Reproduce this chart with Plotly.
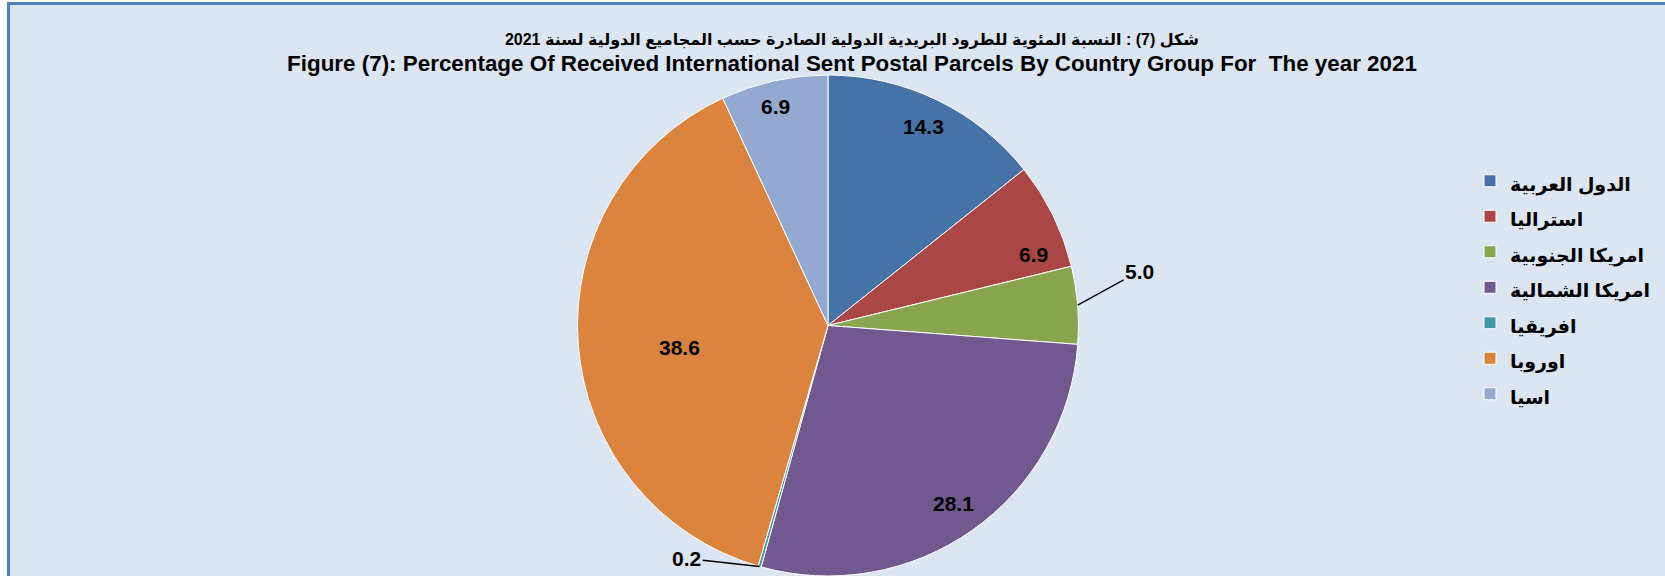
import math
import plotly.graph_objects as go

# ---- data ----
labels = ["الدول العربية", "استراليا", "امريكا الجنوبية", "امريكا الشمالية", "افريقيا", "اوروبا", "اسيا"]
values = [14.3, 6.9, 5.0, 28.1, 0.2, 38.6, 6.9]
colors = ["#4572A7", "#AA4643", "#89A54E", "#71588F", "#4198AF", "#DB843D", "#93A9CF"]

title_ar = "شكل (7) : النسبة المئوية للطرود البريدية الدولية الصادرة حسب المجاميع الدولية لسنة 2021"
title_en = "Figure (7): Percentage Of Received International Sent Postal Parcels By Country Group For  The year 2021"

# ---- style ----
W, H = 1665, 576
FONT = "Arial, Liberation Sans, DejaVu Sans, sans-serif"
dom_x = [577 / W, 1079 / W]
dom_y = [0.0, 1 - 75 / H]
# label placement: inside (radius fraction, angle nudge in deg) or outside with leader (ax, ay)
label_style = [
    ("in", 0.88, 0),
    ("in", 0.87, 7),
    ("out", 62, -34),
    ("in", 0.87, 0),
    ("out", -73, -8),
    ("in", 0.60, -4),
    ("in", 0.90, -1),
]
LABEL_FONT = dict(family=FONT, size=21, color="black", weight="bold")

legend_names = [f"<span style='font-size:19px'>{l}</span>" for l in labels]

fig = go.Figure()
fig.add_trace(go.Pie(
    labels=legend_names,
    values=values,
    textinfo="none",
    marker=dict(colors=colors, line=dict(color="white", width=1)),
    sort=False,
    direction="clockwise",
    rotation=0,
    domain=dict(x=dom_x, y=dom_y),
    hoverinfo="value",
))

# value labels located from the data (slice mid-angles)
cx = (dom_x[0] + dom_x[1]) / 2 * W
cy = (1 - (dom_y[0] + dom_y[1]) / 2) * H
R = min((dom_x[1] - dom_x[0]) * W, (dom_y[1] - dom_y[0]) * H) / 2
total = sum(values)
cum = 0.0
for v, st in zip(values, label_style):
    mid_deg = (cum + v / 2) / total * 360
    cum += v
    if st[0] == "in":
        a = math.radians(mid_deg + st[2])
        px = cx + st[1] * R * math.sin(a)
        py = cy - st[1] * R * math.cos(a)
        fig.add_annotation(x=px / W, y=1 - py / H, xref="paper", yref="paper",
                           xanchor="center", yanchor="middle",
                           text=f"{v:.1f}", showarrow=False, font=LABEL_FONT)
    else:
        a = math.radians(mid_deg)
        px = cx + R * math.sin(a)
        py = cy - R * math.cos(a)
        fig.add_annotation(x=px / W, y=1 - py / H, xref="paper", yref="paper",
                           text=f"{v:.1f}", showarrow=True, arrowhead=0, arrowwidth=1.3,
                           arrowcolor="black", ax=st[1], ay=st[2], font=LABEL_FONT)

# chart area frame
fig.add_shape(type="rect", xref="paper", yref="paper",
              x0=8.5 / W, y0=-0.05, x1=1.05, y1=1 - 3.5 / H,
              fillcolor="#DCE6F2", line=dict(color="#4F81BD", width=3), layer="below")

fig.update_layout(
    width=W, height=H,
    margin=dict(l=0, r=0, t=0, b=0, autoexpand=False),
    paper_bgcolor="white",
    plot_bgcolor="#DCE6F2",
    title=dict(text=f"<span style='font-size:16px'>{title_ar}</span><br>"
                    f"<span style='font-size:22.4px'>{title_en}</span>",
               x=852 / W, xanchor="center", y=1 - 45 / H, yanchor="top",
               font=dict(family=FONT, size=20, color="black", weight="bold")),
    legend=dict(x=1470 / W, y=1 - 158 / H, xanchor="left", yanchor="top",
                font=dict(family=FONT, size=25, color="black", weight="bold"),
                bgcolor="rgba(0,0,0,0)"),
    showlegend=True,
)

fig.write_html("out.html", config={"displayModeBar": False},
               post_script="document.body.style.margin='0';document.body.style.overflow='hidden';")
